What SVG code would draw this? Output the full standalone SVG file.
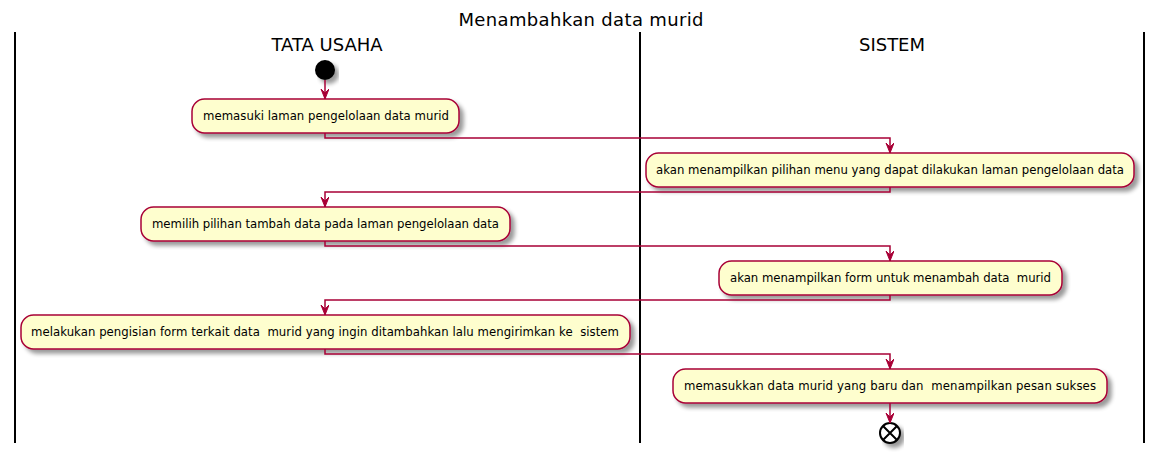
<svg xmlns="http://www.w3.org/2000/svg" width="1163" height="459" viewBox="0 0 1163 459">
<style>
.lane{stroke:#000;stroke-width:2;fill:none}
.act rect{fill:#FEFECE;stroke:#A80036;stroke-width:1.5;filter:url(#sh)}
.act text{font-family:"DejaVu Sans",sans-serif;font-size:11.7px;fill:#000;white-space:pre}
.hdr{font-family:"DejaVu Sans",sans-serif;font-size:18px;fill:#000;text-anchor:middle}
.con path{stroke:#A80036;stroke-width:1.5;fill:none;marker-end:url(#ah)}
</style>
<defs>
<filter id="sh" x="-10%" y="-30%" width="130%" height="180%">
<feGaussianBlur in="SourceAlpha" stdDeviation="2"/>
<feOffset dx="4" dy="4" result="b"/>
<feComponentTransfer><feFuncA type="linear" slope="0.4"/></feComponentTransfer>
<feMerge><feMergeNode/><feMergeNode in="SourceGraphic"/></feMerge>
</filter>
<marker id="ah" markerUnits="userSpaceOnUse" markerWidth="12" markerHeight="10" refX="10" refY="4" orient="auto">
<path d="M0,0 L10,4 L0,8 L4,4 Z" fill="#A80036" stroke="#A80036" stroke-width="1"/>
</marker>
</defs>
<rect width="1163" height="459" fill="#fff"/>
<text class="hdr" x="581" y="26" textLength="245">Menambahkan data murid</text>
<g id="lanes">
<line class="lane" x1="15" y1="32" x2="15" y2="443"/>
<line class="lane" x1="640" y1="32" x2="640" y2="443"/>
<line class="lane" x1="1144" y1="32" x2="1144" y2="443"/>
<text class="hdr" x="327" y="51">TATA USAHA</text>
<text class="hdr" x="892" y="51">SISTEM</text>
</g>
<g id="start"><circle cx="325" cy="70" r="10" fill="#000" filter="url(#sh)"/></g>
<g id="a1" class="act"><rect x="192" y="99" width="267" height="34" rx="12.5"/><text x="203" y="120" textLength="246" lengthAdjust="spacing">memasuki laman pengelolaan data murid</text></g>
<g id="a2" class="act"><rect x="646" y="153" width="488" height="34" rx="12.5"/><text x="656" y="174" textLength="468" lengthAdjust="spacing">akan menampilkan pilihan menu yang dapat dilakukan laman pengelolaan data</text></g>
<g id="a3" class="act"><rect x="141" y="207" width="369" height="34" rx="12.5"/><text x="152" y="228" textLength="347" lengthAdjust="spacing">memilih pilihan tambah data pada laman pengelolaan data</text></g>
<g id="a4" class="act"><rect x="719" y="261" width="343" height="34" rx="12.5"/><text x="730" y="282" textLength="321" lengthAdjust="spacing">akan menampilkan form untuk menambah data  murid</text></g>
<g id="a5" class="act"><rect x="21" y="315" width="609" height="34" rx="12.5"/><text x="31" y="336" textLength="588" lengthAdjust="spacing">melakukan pengisian form terkait data  murid yang ingin ditambahkan lalu mengirimkan ke  sistem</text></g>
<g id="a6" class="act"><rect x="673" y="369" width="434" height="34" rx="12.5"/><text x="684" y="390" textLength="412" lengthAdjust="spacing">memasukkan data murid yang baru dan  menampilkan pesan sukses</text></g>
<g id="end" filter="url(#sh)"><circle cx="890" cy="433" r="10" fill="#fff" stroke="#000" stroke-width="2"/><path d="M883,426 L897,440 M897,426 L883,440" stroke="#000" stroke-width="2"/></g>
<g id="connectors" class="con">
<path d="M325,80 L325,99"/>
<path d="M325,133 L325,138 L890,138 L890,153"/>
<path d="M890,187 L890,192 L325,192 L325,207"/>
<path d="M325,241 L325,246 L890,246 L890,261"/>
<path d="M890,295 L890,300 L325,300 L325,315"/>
<path d="M325,349 L325,354 L890,354 L890,369"/>
<path d="M890,403 L890,423"/>
</g>
</svg>
